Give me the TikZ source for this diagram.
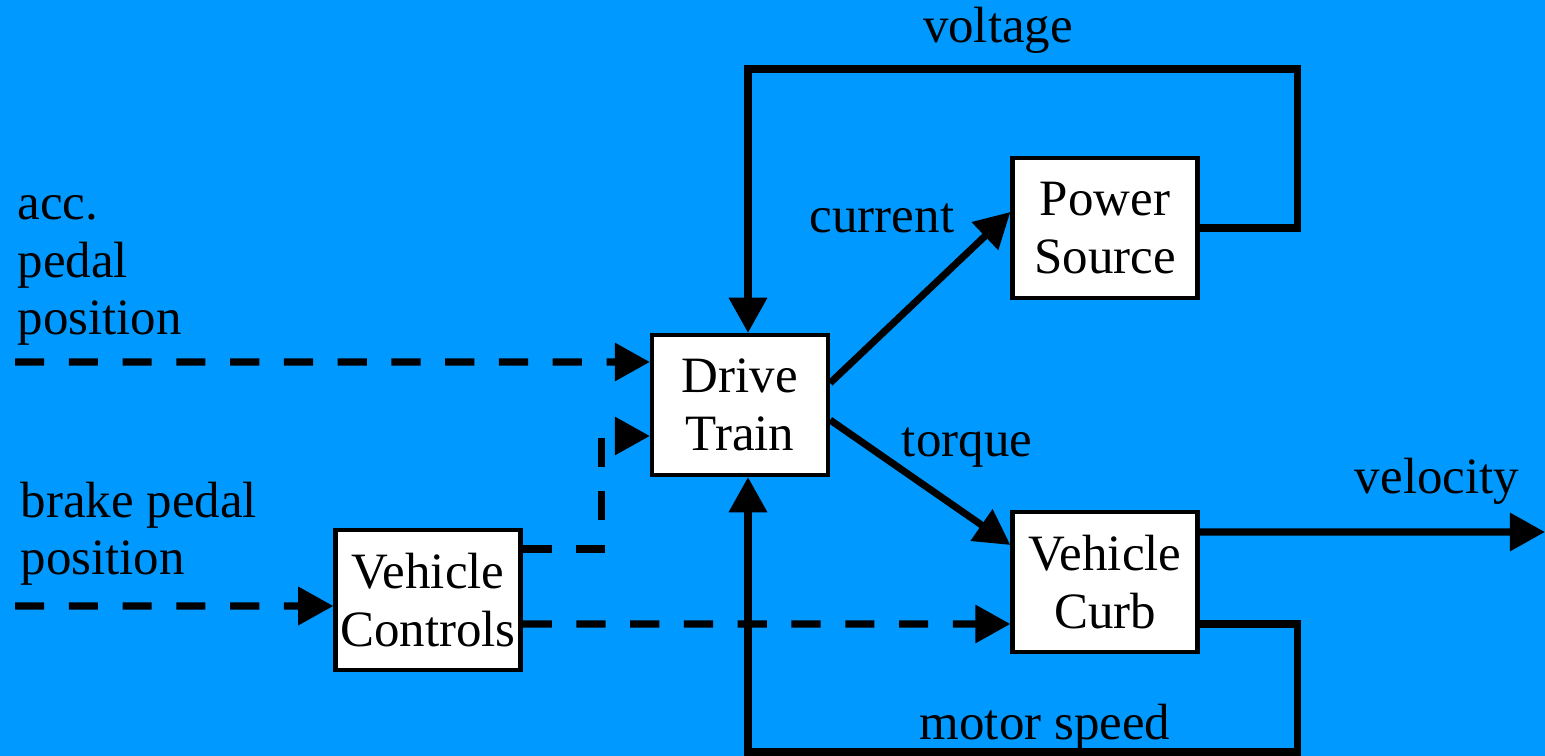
\documentclass[tikz,border=0pt]{standalone}
\usepackage{fontspec}
\setmainfont{Liberation Serif}
\usetikzlibrary{arrows.meta,positioning}
\definecolor{bgblue}{HTML}{0099FF}

\begin{document}
\begin{tikzpicture}[
  x=0.1mm, y=-0.1mm,
  font=\fontsize{14.5}{16.5}\selectfont,
  block/.style={draw, fill=white, line width=1.2pt, align=center, minimum width=18.5mm, minimum height=14mm, inner sep=0pt},
  arrow/.style={-{Triangle[length=10pt,width=10.5pt]}, line width=2pt},
  dasharrow/.style={arrow, dash pattern=on 8.3pt off 7pt},
  lbl/.style={inner sep=0pt, anchor=base}
]
\fill[bgblue] (0,0) rectangle (1545,756);
\useasboundingbox (0,0) rectangle (1545,756);

\node[block, minimum width=17.6mm] (drive) at (740,405) {Drive\\Train};
\node[block] (power) at (1105,228) {Power\\Source};
\node[block] (curb) at (1105,582) {Vehicle\\Curb};
\node[block] (controls) at (428,600) {Vehicle\\Controls};

\coordinate (accin) at (15,362);
\coordinate (brakein) at (15,606);
\coordinate (velout) at (1545,532);

\node[align=left, anchor=base west, inner sep=0pt] (acclbl) at (17,335) {acc.\\pedal\\position};
\node[align=left, anchor=base west, inner sep=0pt] (brakelbl) at (20,575) {brake pedal\\position};
\node[lbl] (voltlbl) at (998,43) {voltage};
\node[lbl] (currlbl) at (882,233) {current};
\node[lbl] (torqlbl) at (967,457) {torque};
\node[lbl] (vellbl) at (1437,494) {velocity};
\node[lbl] (speedlbl) at (1045,740) {motor speed};

% driver inputs
\draw[dasharrow] (accin) -- ([yshift=4.3mm]drive.west);
\draw[dasharrow] (brakein) -- ([yshift=-0.6mm]controls.west);
\draw[dasharrow] ([yshift=5.1mm]controls.east) -- ++(79,0) |- ([yshift=-3.1mm]drive.west);
\draw[dasharrow] ([yshift=-2.4mm]controls.east) -- ([yshift=-4.2mm]curb.west);

% power flow
\draw[arrow] ([yshift=2.2mm]drive.east) -- ([yshift=1.6mm]power.west);
\draw[arrow] ([yshift=-1.5mm]drive.east) -- ([yshift=3.7mm]curb.west);
\draw[arrow] ([yshift=5mm]curb.east) -- (velout);
\draw[arrow] (power.east) -- ++(98,0) -- ++(0,-159) -| ([xshift=0.8mm]drive.north);
\draw[arrow] ([yshift=-4.2mm]curb.east) -- ++(98,0) -- ++(0,128) -| ([xshift=0.8mm]drive.south);
\end{tikzpicture}
\end{document}
